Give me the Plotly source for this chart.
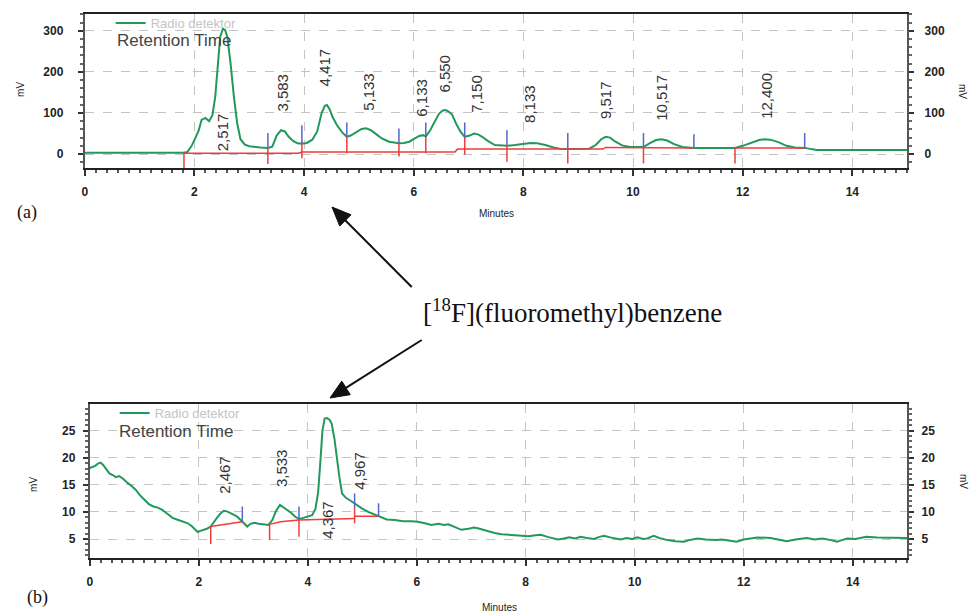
import math
import plotly.graph_objects as go

W, H = 971, 613

# ---------------- (a) chromatogram ----------------
a_time = [0, 0.5, 1.0, 1.5, 1.8, 1.87, 1.95, 2.02, 2.08, 2.13, 2.2, 2.27, 2.33, 2.38, 2.42, 2.47,
          2.52, 2.56, 2.6, 2.66, 2.72, 2.78, 2.84, 2.92, 3.0, 3.1, 3.2, 3.34, 3.42, 3.5, 3.58, 3.65,
          3.72, 3.8, 3.88, 3.96, 4.05, 4.15, 4.24, 4.32, 4.38, 4.42, 4.47, 4.52, 4.6, 4.7, 4.78, 4.85,
          4.95, 5.05, 5.13, 5.22, 5.32, 5.42, 5.55, 5.65, 5.73, 5.82, 5.92, 6.02, 6.1, 6.17, 6.22,
          6.3, 6.38, 6.46, 6.53, 6.58, 6.63, 6.7, 6.77, 6.85, 6.93, 7.02, 7.1, 7.17, 7.25, 7.35, 7.48,
          7.6, 7.7, 7.85, 8.0, 8.13, 8.25, 8.4, 8.55, 8.7, 8.81, 9.0, 9.2, 9.32, 9.42, 9.5, 9.58, 9.68,
          9.8, 9.95, 10.1, 10.19, 10.3, 10.42, 10.52, 10.62, 10.75, 10.9, 11.11, 11.5, 11.86, 12.0,
          12.15, 12.3, 12.4, 12.5, 12.65, 12.8, 12.95, 13.13, 13.25, 13.35, 14.0, 15.0]
a_mv = [3, 3, 3, 3, 3, 5, 20, 40, 58, 83, 88, 80, 95, 140, 210, 285,
        305, 302, 285, 220, 140, 75, 36, 23, 19, 17, 16, 15, 18, 45, 58, 55,
        42, 32, 26, 25, 27, 35, 55, 100, 118, 119, 108, 90, 70, 52, 42, 45,
        54, 61, 63, 58, 48, 38, 30, 27, 26, 27, 30, 38, 44, 46, 43,
        58, 80, 98, 106, 107, 104, 96, 75, 55, 42, 45, 50, 48, 42, 32, 22,
        20, 20, 22, 25, 27, 26, 22, 16, 12, 12, 12, 13, 22, 36, 42, 40, 30,
        21, 17, 16, 17, 26, 34, 36, 33, 24, 17, 15, 15, 15, 20,
        28, 34, 36, 35, 29, 20, 16, 15, 12, 10, 10, 10]

a_base_time = [1.81, 3.9, 3.96, 6.75, 6.8, 9.45, 9.5, 11.11, None, 11.86, 13.13]
a_base_mv = [2, 2, 5, 5, 12, 12, 16, 15, None, 15, 15]

a_red_t = [1.81, 3.34, 3.96, 4.78, 5.73, 6.22, 6.93, 7.70, 8.81, 10.19, 11.86]
a_red_hi = [3, 17, 30, 42, 26, 42, 41, 22, 14, 18, 15]
a_red_lo = [-34, -24, -10, 2, -6, 2, -2, -19, -23, -23, -23]

a_blue_t = [3.34, 3.96, 4.78, 5.73, 6.22, 6.93, 7.70, 8.81, 10.19, 11.11, 13.13]
a_blue_lo = [17, 25, 42, 26, 42, 41, 22, 14, 18, 15, 15]
a_blue_hi = [51, 70, 77, 62, 77, 77, 58, 51, 51, 48, 51]

a_labels = ["2,517", "3,583", "4,417", "5,133", "6,133", "6,550", "7,150", "8,133", "9,517", "10,517", "12,400"]
a_label_t = [2.51, 3.60, 4.39, 5.17, 6.15, 6.56, 7.13, 8.12, 9.51, 10.52, 12.42]
a_label_mv = [54, 150, 212, 152, 137, 197, 146, 122, 132, 136, 141]
a_yticks = [0, 100, 200, 300]

# ---------------- (b) chromatogram ----------------
b_time = [0, 0.05, 0.1, 0.15, 0.2, 0.25, 0.3, 0.36, 0.42, 0.48, 0.54, 0.6, 0.7, 0.78, 0.85, 0.92,
          1.0, 1.09, 1.17, 1.25, 1.33, 1.42, 1.52, 1.6, 1.7, 1.8, 1.88, 1.94, 1.98, 2.03, 2.09, 2.15,
          2.22, 2.28, 2.34, 2.4, 2.46, 2.52, 2.58, 2.64, 2.7, 2.76, 2.82, 2.89, 2.95, 3.02, 3.1, 3.18,
          3.28, 3.35, 3.42, 3.49, 3.55, 3.62, 3.7, 3.77, 3.84, 3.92, 4.0, 4.08, 4.14, 4.19, 4.23, 4.27,
          4.31, 4.35, 4.4, 4.44, 4.49, 4.53, 4.58, 4.63, 4.7, 4.78, 4.86, 4.93, 5.0, 5.11, 5.2, 5.32,
          5.45, 5.6, 5.75, 5.9, 6.02, 6.15, 6.27, 6.4, 6.5, 6.58, 6.7, 6.82, 6.95, 7.05, 7.12, 7.25,
          7.35, 7.43, 7.55, 7.7, 7.8, 7.92, 8.05, 8.18, 8.28, 8.4, 8.5, 8.59, 8.7, 8.8, 8.9, 9.01,
          9.12, 9.25, 9.35, 9.44, 9.55, 9.65, 9.74, 9.85, 9.95, 10.05, 10.15, 10.23, 10.35, 10.45,
          10.6, 10.75, 10.9, 11.0, 11.15, 11.3, 11.5, 11.6, 11.75, 11.87, 12.0, 12.1, 12.25, 12.49,
          12.65, 12.79, 12.95, 13.05, 13.16, 13.3, 13.45, 13.6, 13.71, 13.8, 13.9, 14.05, 14.25,
          14.45, 14.7, 14.92, 15.0]
b_mv = [18.1, 18.3, 18.5, 18.9, 19.1, 18.6, 17.8, 17.1, 16.8, 16.4, 16.6, 16.2, 15.3, 14.7, 14.0, 13.1,
        12.3, 11.4, 11.0, 10.8, 10.4, 9.7, 8.9, 8.6, 8.2, 7.9, 7.3, 6.6, 6.3, 6.5, 6.7, 6.9,
        7.3, 8.2, 9.0, 9.7, 10.2, 10.1, 9.8, 9.6, 9.2, 8.6, 8.0, 7.3, 7.8, 8.0, 7.8, 7.7,
        7.6, 8.5, 10.2, 11.3, 10.9, 10.5, 9.8, 9.1, 8.7, 8.9, 9.1, 9.4, 10.5, 13.5, 19.0, 25.0,
        27.2, 27.3, 27.0, 26.3, 23.5, 20.2, 16.5, 13.4, 12.6, 12.1, 11.5, 11.0, 10.6, 10.0, 9.6, 9.2,
        8.6, 8.5, 8.3, 8.3, 8.2, 7.9, 7.6, 7.8, 7.6, 7.7, 7.2, 6.7, 6.9, 7.1, 7.0, 6.6,
        6.4, 6.1, 5.9, 5.8, 5.7, 5.6, 5.5, 5.7, 5.8, 5.4, 5.2, 4.9, 5.1, 5.3, 5.1, 5.4,
        5.2, 5.0, 5.4, 5.6, 5.3, 5.1, 4.9, 5.2, 5.0, 5.3, 5.0, 5.1, 5.6, 5.2,
        4.8, 4.6, 4.5, 4.8, 5.1, 4.9, 4.8, 4.9, 4.7, 4.5, 4.9, 5.1, 5.3, 5.2,
        4.9, 4.6, 4.9, 5.1, 5.2, 4.9, 5.1, 4.8, 4.5, 4.8, 5.1, 5.0, 5.4,
        5.3, 5.3, 5.2, 5.2]

b_base_time = [2.22, 2.5, 2.8, None, 3.3, 3.5, 3.84, 4.86, None, 4.86, 5.3]
b_base_mv = [7.3, 7.8, 8.2, None, 7.7, 8.2, 8.5, 8.8, None, 9.2, 9.2]

b_red_t = [2.22, 3.3, 3.84, 4.86]
b_red_hi = [7.3, 7.7, 8.5, 10.7]
b_red_lo = [4.1, 4.8, 5.4, 7.9]

b_blue_t = [2.8, 3.84, 4.86, 5.3]
b_blue_lo = [8.2, 8.5, 10.7, 9.2]
b_blue_hi = [11.0, 11.0, 13.4, 11.6]

b_labels = ["2,467", "3,533", "4,367", "4,967"]
b_label_t = [2.46, 3.53, 4.35, 4.96]
b_label_mv = [16.8, 18.1, 8.5, 17.6]
b_yticks = [5, 10, 15, 20, 25]

x_ticks = [0, 2, 4, 6, 8, 10, 12, 14]


def px(x):
    return x / W


def py(y):
    return 1 - y / H


def segs(ts, lo, hi):
    xs, ys = [], []
    for t, a, b in zip(ts, lo, hi):
        xs += [t, t, None]
        ys += [a, b, None]
    return xs, ys


GREEN = "#22995c"
RED = "#f03c3c"
BLUE = "#5566cc"
SANS = "Liberation Sans"
SERIF = "Liberation Serif"

fig = go.Figure()

# (a)
fig.add_trace(go.Scatter(x=a_time, y=a_mv, mode="lines", name="Radio detektor",
                         line=dict(color=GREEN, width=2), xaxis="x", yaxis="y", legend="legend"))
fig.add_trace(go.Scatter(x=a_base_time, y=a_base_mv, mode="lines", showlegend=False,
                         line=dict(color=RED, width=1.5), xaxis="x", yaxis="y2"))
rx, ry = segs(a_red_t, a_red_lo, a_red_hi)
fig.add_trace(go.Scatter(x=rx, y=ry, mode="lines", showlegend=False,
                         line=dict(color=RED, width=1.5), xaxis="x", yaxis="y2"))
bx, by = segs(a_blue_t, a_blue_lo, a_blue_hi)
fig.add_trace(go.Scatter(x=bx, y=by, mode="lines", showlegend=False,
                         line=dict(color=BLUE, width=1.5), xaxis="x", yaxis="y2"))

# (b)
fig.add_trace(go.Scatter(x=b_time, y=b_mv, mode="lines", name="Radio detektor",
                         line=dict(color=GREEN, width=2), xaxis="x2", yaxis="y3", legend="legend2"))
fig.add_trace(go.Scatter(x=b_base_time, y=b_base_mv, mode="lines", showlegend=False,
                         line=dict(color=RED, width=1.5), xaxis="x2", yaxis="y4"))
rx, ry = segs(b_red_t, b_red_lo, b_red_hi)
fig.add_trace(go.Scatter(x=rx, y=ry, mode="lines", showlegend=False,
                         line=dict(color=RED, width=1.5), xaxis="x2", yaxis="y4"))
bx, by = segs(b_blue_t, b_blue_lo, b_blue_hi)
fig.add_trace(go.Scatter(x=bx, y=by, mode="lines", showlegend=False,
                         line=dict(color=BLUE, width=1.5), xaxis="x2", yaxis="y4"))

tickfont = dict(family=SANS, size=12, color="#222", weight="bold")
grid = dict(showgrid=True, gridcolor="#c4c4c4", griddash="dash", gridwidth=1, zeroline=False)


def xax(domain, anchor):
    return dict(domain=domain, anchor=anchor, range=[0, 15], tickvals=x_ticks,
                ticks="outside", ticklen=6, tickwidth=1.5, tickcolor="#333",
                showline=True, linecolor="#222", linewidth=2, mirror=True,
                minor=dict(dtick=0.2, tick0=0, ticks="outside", ticklen=3, tickcolor="#555", showgrid=False),
                tickfont=tickfont, ticklabelstandoff=6, **grid)


def yax(domain, anchor, rng, tv, mdt, standoff):
    return dict(domain=domain, anchor=anchor, range=rng, tickvals=tv,
                ticks="outside", ticklen=5, tickwidth=1.5, tickcolor="#333",
                showline=True, linecolor="#555", linewidth=2,
                minor=dict(dtick=mdt, tick0=0, ticks="outside", ticklen=3, tickcolor="#666", showgrid=False),
                tickfont=tickfont, ticklabelstandoff=standoff, **grid)


def yax_r(over, anchor, rng, tv, mdt, standoff):
    return dict(overlaying=over, anchor=anchor, side="right", range=rng, tickvals=tv,
                ticks="outside", ticklen=5, tickwidth=1.5, tickcolor="#333",
                showline=True, linecolor="#555", linewidth=2, showgrid=False, zeroline=False,
                minor=dict(dtick=mdt, tick0=0, ticks="outside", ticklen=3, tickcolor="#666", showgrid=False),
                tickfont=tickfont, ticklabelstandoff=standoff)


a_range = [-34, 341]
b_range = [1.5, 29.9]

annotations = []
for txt, t, v in zip(a_labels, a_label_t, a_label_mv):
    annotations.append(dict(text=txt, x=t, y=v, xref="x", yref="y", textangle=-90, showarrow=False,
                            xanchor="center", yanchor="middle",
                            font=dict(family=SANS, size=15, color="#333")))
for txt, t, v in zip(b_labels, b_label_t, b_label_mv):
    annotations.append(dict(text=txt, x=t, y=v, xref="x2", yref="y3", textangle=-90, showarrow=False,
                            xanchor="center", yanchor="middle",
                            font=dict(family=SANS, size=15, color="#333")))


def ptext(text, x, y, size, family=SANS, color="#222", angle=0, xanchor="center"):
    annotations.append(dict(text=text, x=px(x), y=py(y), xref="paper", yref="paper", showarrow=False,
                            textangle=angle, xanchor=xanchor, yanchor="middle",
                            font=dict(family=family, size=size, color=color)))


ptext("Retention Time", 112, 40, 17, color="#444", xanchor="left")
ptext("Retention Time", 114, 431, 17, color="#444", xanchor="left")
ptext("Minutes", 495, 213, 10)
ptext("Minutes", 498, 607, 10)
ptext("mV", 18, 89, 10, angle=-90)
ptext("mV", 30, 484, 10, angle=-90)
ptext("mV", 963, 91, 10, angle=90)
ptext("mV", 963, 481, 10, angle=90)
ptext("(a)", 24, 212, 18, family=SERIF, color="#111")
ptext("(b)", 35, 597, 18, family=SERIF, color="#111")
ptext("[<sup>18</sup>F](fluoromethyl)benzene", 571, 311, 27, family=SERIF, color="#111")

# arrows (tail -> head) drawn as shapes in paper space
shapes = []
for hx, hy, tx, ty in [(330, 207, 410, 287), (328, 398, 420, 340)]:
    dx, dy = hx - tx, hy - ty
    L = math.hypot(dx, dy)
    ux, uy = dx / L, dy / L
    hl, hw = 19, 8
    bxp, byp = hx - ux * hl, hy - uy * hl
    shapes.append(dict(type="line", xref="paper", yref="paper",
                       x0=px(tx), y0=py(ty), x1=px(bxp + ux * 2), y1=py(byp + uy * 2),
                       line=dict(color="#111", width=2)))
    p1 = (bxp - uy * hw, byp + ux * hw)
    p2 = (bxp + uy * hw, byp - ux * hw)
    path = "M {} {} L {} {} L {} {} Z".format(px(hx), py(hy), px(p1[0]), py(p1[1]), px(p2[0]), py(p2[1]))
    shapes.append(dict(type="path", xref="paper", yref="paper", path=path,
                       fillcolor="#111", line=dict(color="#111", width=1)))

legend_style = dict(xanchor="left", yanchor="middle", bgcolor="rgba(0,0,0,0)",
                    font=dict(family=SANS, size=13, color="#c4c4c4"), itemwidth=30)

fig.update_layout(
    width=W, height=H, margin=dict(l=0, r=0, t=0, b=0),
    paper_bgcolor="white", plot_bgcolor="white",
    xaxis=xax([82 / W, 907 / W], "y"),
    yaxis=yax([py(168), py(14)], "x", a_range, a_yticks, 20, 12),
    yaxis2=yax_r("y", "x", a_range, a_yticks, 20, 8),
    xaxis2=xax([87 / W, 907 / W], "y3"),
    yaxis3=yax([py(558), py(404)], "x2", b_range, b_yticks, 1, 5),
    yaxis4=yax_r("y3", "x2", b_range, b_yticks, 1, 5),
    legend=dict(x=px(108), y=py(23), **legend_style),
    legend2=dict(x=px(112), y=py(413), **legend_style),
    annotations=annotations,
    shapes=shapes,
    showlegend=True,
)

fig.write_html("out.html", config={"displayModeBar": False},
               post_script="document.body.style.margin='0';")
